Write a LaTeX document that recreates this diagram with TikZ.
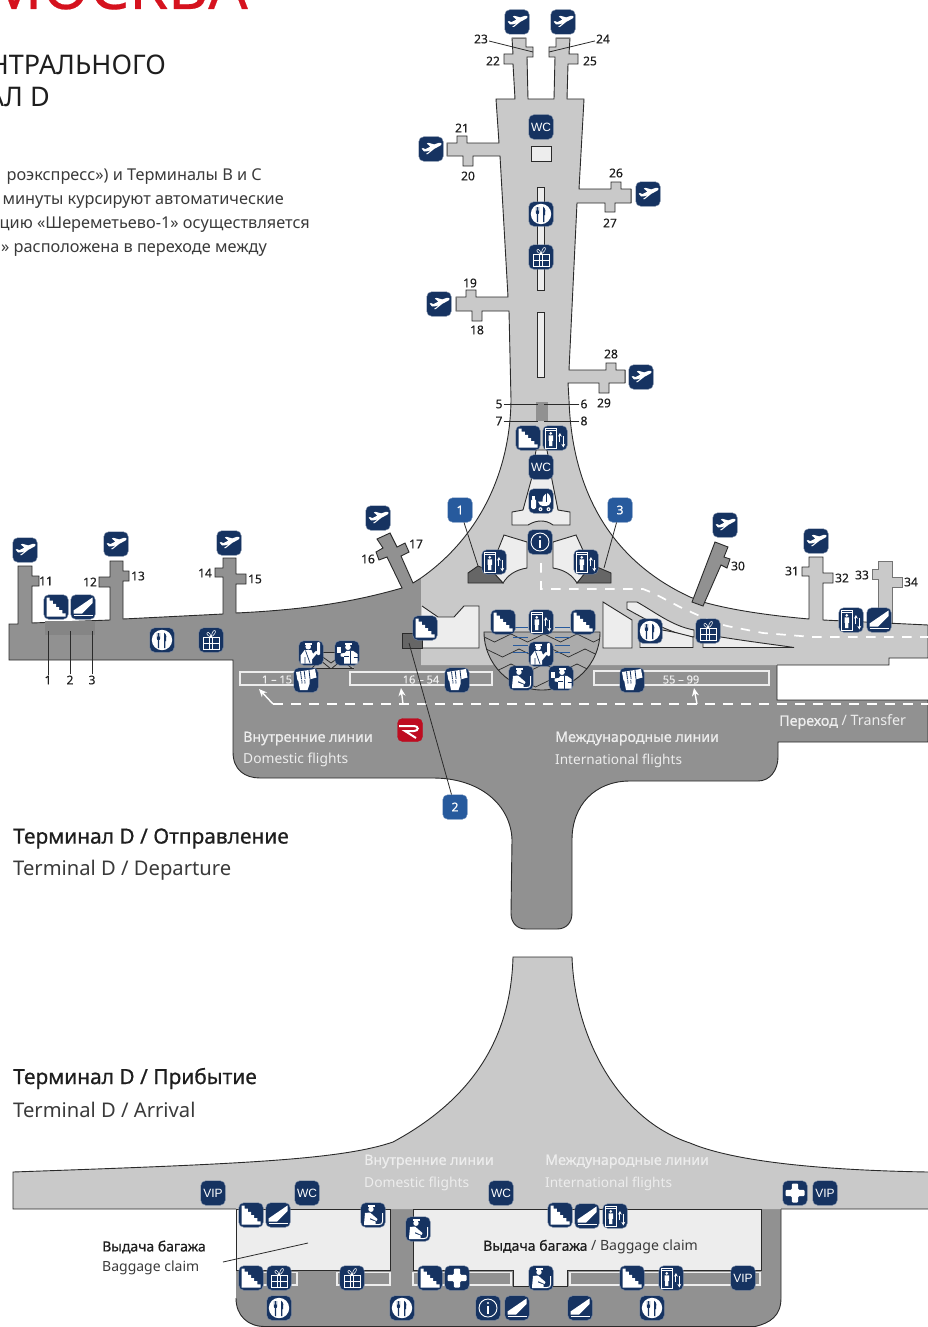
\documentclass[tikz,border=0pt]{standalone}
\usepackage{fontspec}
\setmainfont{Noto Sans}
\newfontfamily\iconfont{Liberation Sans}
\newfontfamily\semib[FakeBold=0.7]{Noto Sans}
\newfontfamily\medf[FakeBold=0.3]{Noto Sans}
\usetikzlibrary{arrows.meta}
\definecolor{navy}{HTML}{163361}
\definecolor{boxblue}{HTML}{275A9D}
\definecolor{lightg}{HTML}{C9C9C9}
\definecolor{darkg}{HTML}{919191}
\definecolor{roomg}{HTML}{EDEDED}
\definecolor{stair}{HTML}{666666}
\definecolor{hatch}{HTML}{ABABAB}
\definecolor{edgec}{HTML}{2A2A2A}
\definecolor{redm}{HTML}{D5121E}
\definecolor{redbox}{HTML}{BE0C20}
\definecolor{txt}{HTML}{1E1E1E}
\definecolor{txtg}{HTML}{3A3A3A}
\definecolor{pale}{HTML}{EDEDED}
\tikzset{
 iconbox/.style={fill=navy,draw=navy!55!white,line width=.4pt,rounded corners=5pt,minimum size=24.5pt,inner sep=0pt,text=white,font=\iconfont\fontsize{12}{12}\selectfont},
 numbox/.style={fill=boxblue,draw=boxblue!70!white,line width=.4pt,rounded corners=5pt,minimum size=24.5pt,inner sep=0pt,text=white,font=\semib\fontsize{12}{12}\selectfont},
 numlab/.style={inner sep=1pt,text=txt,font=\medf\fontsize{12}{12}\selectfont},
 leader/.style={draw=edgec,line width=.8pt},
 wallline/.style={draw=edgec,line width=.9pt,line join=miter},
 roombox/.style={fill=roomg,draw=edgec,line width=.9pt},
 softedge/.style={draw=darkg!80!black,line width=.9pt},
 stripbox/.style={draw=pale,line width=1.5pt},
 wdash/.style={draw=white,line width=1.7pt,dash pattern=on 9.5pt off 8.5pt},
 warrow/.style={draw=white,line width=1.4pt,-{Stealth[length=8pt,width=7pt]}},
 rangetxt/.style={text=pale,font=\medf\fontsize{11}{12}\selectfont},
 capt/.style={anchor=west,inner sep=0pt},
 gplane/.pic={\fill[white] (10.5,-5.6) .. controls (9.5,-6.8) and (6,-6) .. (3.2,-4.6) -- (-2.5,-6.2) -- (-4.2,-5.5) -- (-.6,-2.4) -- (-5.6,.1) -- (-8,-.9) -- (-9.3,-.3) -- (-6.9,2.5) .. controls (-4,2.7) and (-2,1.9) .. (0,1.1) -- (-5,5) -- (-3.2,5) -- (3.5,-.3) -- (9,-3.2) .. controls (10.2,-3.9) and (10.8,-4.8) .. (10.5,-5.6) -- cycle;},
 gstairs/.pic={\fill[white] (-9.5,-9.5)--(-6.4,-9.5)--(-6.4,-6.3)--(-3.2,-6.3)--(-3.2,-3.2)--(0,-3.2)--(0,0)--(3.2,0)--(3.2,3.2)--(6.4,3.2)--(6.4,6.3)--(9.5,6.3)--(9.5,9.5)--(-9.5,9.5)--cycle;},
 gesc/.pic={\fill[white] (-9.5,3.5)--(9.5,-9.5)--(9.5,-4)--(-1,6.6)--(-9.5,6.6)--cycle; \draw[white,line width=.9pt] (-9.5,8.6)--(9.5,8.6);},
 glift/.pic={\draw[white,line width=.8pt] (-10,-10) rectangle (1.5,10); \draw[white,line width=.6pt] (-10,-7.4)--(1.5,-7.4); \fill[white] (-4.2,-4.6) circle[radius=1.5pt]; \fill[white] (-6.4,-2.6) rectangle (-2,2.8) (-5.8,2.8) rectangle (-2.6,8); \draw[white,line width=.9pt,-{Stealth[length=3.6pt,width=3.8pt]}] (4.9,4)--(4.9,-5); \draw[white,line width=.9pt,-{Stealth[length=3.6pt,width=3.8pt]}] (8.3,-2)--(8.3,9.5);},
 gfood/.pic={\fill[white] (0,0) circle[radius=10.2pt]; \fill[navy] (-5.2,-7)--(-4.6,-7)--(-4.6,-3.5)--(-3.9,-3.5)--(-3.9,-7)--(-3.1,-7)--(-3.1,-3.5)--(-2.4,-3.5)--(-2.4,-7)--(-1.8,-7)--(-1.8,-2) .. controls (-1.8,-.5) and (-2.5,0) .. (-2.8,0) -- (-2.8,8) -- (-4.2,8) -- (-4.2,0) .. controls (-4.6,0) and (-5.2,-.5) .. (-5.2,-2) -- cycle; \fill[navy] (2,-7.5) .. controls (4.5,-6) and (5,-2) .. (4,1) -- (3.4,1) -- (3.4,8) -- (2,8) -- cycle;},
 ggift/.pic={\begin{scope}[draw=white,line width=.55pt] \draw (-8,-3) -- (8,-3) -- (8,9) -- (-8,9) -- cycle; \draw (-8,3) -- (8,3); \draw (-1.3,-3)--(-1.3,9) (1.3,-3)--(1.3,9); \draw (0,-3) .. controls (-5,-4.5) and (-5,-8) .. (-2.5,-7.5) .. controls (-1,-7) and (-.5,-5) .. (0,-3) .. controls (.5,-6) and (2,-10) .. (4,-9.5) .. controls (5.5,-8) and (3,-4.5) .. (0,-3); \end{scope}},
 ginfo/.pic={\draw[white,line width=.9pt] (0,0) circle[radius=9pt]; \fill[white] (0,-5) circle[radius=1.1pt]; \fill[white] (-.9,-2.4) rectangle (.9,5.8);},
 gplus/.pic={\fill[white,rounded corners=1pt] (-3.2,-9.5) -- (3.2,-9.5) -- (3.2,-3.2) -- (9.5,-3.2) -- (9.5,3.2) -- (3.2,3.2) -- (3.2,9.5) -- (-3.2,9.5) -- (-3.2,3.2) -- (-9.5,3.2) -- (-9.5,-3.2) -- (-3.2,-3.2) -- cycle;},
 gpram/.pic={\fill[white,rounded corners=1.5pt] (-10,-2) rectangle (-5,8); \fill[white] (-8.6,-5.5) rectangle (-6.4,-2); \fill[white] (-3,.5) -- (1.5,.5) .. controls (1.5,-4) and (3,-7) .. (5.5,-8) .. controls (8.5,-7.5) and (10,-4) .. (10,.5) .. controls (10,3.5) and (7,5) .. (3.5,5) .. controls (0,5) and (-3,3.5) .. (-3,.5) -- cycle; \draw[navy,line width=.6pt] (5.5,-8) -- (5.5,.5); \fill[white] (-.5,8.2) circle[radius=2pt] (7.5,8.2) circle[radius=2pt]; \fill[navy] (-.5,8.2) circle[radius=.7pt] (7.5,8.2) circle[radius=.7pt];},
 gguard/.pic={\fill[white] (-2.8,-6.3) circle[radius=2.8pt]; \fill[white] (-6,-10) rectangle (.6,-8.2); \fill[white] (-10.5,10.5) -- (-10.5,2.5) -- (-6.5,-2.8) -- (.5,-2.8) -- (2,.8) -- (5.2,-2.2) -- (6.8,-.5) -- (1,6.5) -- (1,10.5) -- cycle; \draw[navy,line width=.7pt] (-5.5,-2.5) -- (-1,10) (-6,4)--(-6,10.5); \fill[white,rounded corners=1pt] (6,-11) rectangle (9,2);},
 gcustoms/.pic={\fill[white] (1,-5.8) circle[radius=2.8pt]; \fill[white] (-2.2,-10) rectangle (4.8,-8); \fill[white] (-3,10.5) -- (-3,4) -- (-6.5,3.4) -- (-6.5,.6) -- (-2,-.2) -- (-.5,-2.2) -- (6,-2.2) -- (10.5,1) -- (10.5,10.5) -- cycle; \fill[white] (-10,-6) rectangle (-6,.4); \draw[navy,line width=.7pt] (3,-2) -- (3,10.5) (-3,3.8) -- (1.5,3.8) (6.5,4)--(10.5,4);},
 gbag/.pic={\fill[white] (-5.5,-10) rectangle (1.5,-8.2); \fill[white] (-2,-5.8) circle[radius=2.7pt]; \fill[white] (-9,9) -- (-8,-2) -- (-3,-2.5) -- (4.5,4) -- (3.5,6) -- (-3,3) -- (-3,4.5) -- (2.5,6.5) -- (2.5,9) -- cycle; \draw[white,line width=1pt] (9.5,-2) -- (9.5,6.5) .. controls (9.5,8.5) and (8.5,9.5) .. (6,9.5) -- (-9,9.5);},
 gpass/.pic={\fill[white] (-10,-8) -- (9,-11) -- (10.5,-2.5) -- (4,-.7) -- (-8.5,.5) -- cycle; \draw[navy,line width=.8pt] (-5.5,-8.5) -- (-4.5,-.5) (-1.8,-9.2) -- (-.8,-.5) (3,-10) -- (4,-1); \fill[white] (-8,-.5) -- (3.5,-1) -- (3.5,4) -- (1.5,10) -- (-6,10) -- cycle; \draw[navy,line width=.7pt] (-4.2,0)--(-4,3.5) (-1.2,0)--(-1,3.5);},
}
\newcommand{\lightedge}{(421,578) .. controls (475,540) and (510,478) .. (511,400) -- (509,311) -- (482,311) -- (482,321) -- (472,321) -- (472,311) -- (456,311) -- (456,297) -- (466,297) -- (466,290) -- (476,290) -- (476,297) -- (508,297) -- (500,156) -- (473,156) -- (473,166) -- (463,166) -- (463,156) -- (447,156) -- (447,143) -- (457,143) -- (457,136) -- (467,136) -- (467,143) -- (499,143) -- (496,99) -- (515,99) -- (513,64) -- (504,64) -- (504,54) -- (513,54) -- (512,38) -- (526,38) -- (526,47) -- (533,47) -- (533,57) -- (527,57) -- (528,99) -- (554,99) -- (555,57) -- (549,57) -- (549,47) -- (556,47) -- (556,38) -- (570,38) -- (569,54) -- (578,54) -- (578,64) -- (568,64) -- (567,99) -- (584,99) -- (579,189) -- (611,189) -- (611,182) -- (621,182) -- (621,189) -- (631,189) -- (631,203) -- (615,203) -- (615,212) -- (605,212) -- (605,203) -- (577,203) -- (569,370) -- (606,370) -- (606,363) -- (616,363) -- (616,370) -- (625,370) -- (625,383) -- (609,383) -- (609,393) -- (599,393) -- (599,383) -- (568,383) -- (569,400) .. controls (572,490) and (610,560) .. (690,597) -- (703,602) .. controls (735,611) and (775,616) .. (809,619) -- (809,576) -- (802,576) -- (802,567) -- (809,567) -- (809,557) -- (823,557) -- (823,573) -- (833,573) -- (833,583) -- (823,583) -- (823,620) -- (928,625) -- (928,658) -- (889,658) -- (889,665) -- (777,665)}
\newcommand{\darkedge}{(421,578) -- (413,583) -- (401,556) -- (409,552) -- (405,543) -- (397,547) -- (390,533) -- (377,539) -- (383,548) -- (376,552) -- (379,560) -- (387,557) -- (402,588) .. controls (350,603) and (300,610) .. (236,613) -- (236,584) -- (246,584) -- (246,574) -- (236,574) -- (236,558) -- (223,558) -- (223,568) -- (215,568) -- (215,577) -- (223,577) -- (223,614) -- (123,619) -- (123,581) -- (129,581) -- (129,571) -- (123,571) -- (123,561) -- (110,561) -- (110,577) -- (99,577) -- (99,587) -- (110,587) -- (110,620) -- (32,623) -- (32,586) -- (39,586) -- (39,576) -- (32,576) -- (32,566) -- (18,566) -- (18,624) -- (9,624) -- (9,660) -- (233,660) -- (233,752) .. controls (233,770) and (245,778) .. (260,778) -- (433,778) .. controls (480,778) and (511,805) .. (512,840) -- (511,913) .. controls (511,923) and (517,929) .. (526,929) -- (557,929) .. controls (566,929) and (572,923) .. (572,913) -- (572,840) .. controls (572,805) and (595,781) .. (630,781) -- (758,781) .. controls (770,781) and (778,770) .. (778,757) -- (778,742) -- (928,742) -- (928,700) -- (777,700) -- (777,665)}
\begin{document}
\begin{tikzpicture}[x=1pt,y=-1pt]
\useasboundingbox (0,0) rectangle (928,1327);
\clip (0,0) rectangle (928,1327);
% ---- heading text
\node[anchor=base east,inner sep=0pt,text=redm,font=\medf\fontsize{62}{62}\selectfont] (ttl) at (248,9) {МОСКВА};
\node[anchor=base east,inner sep=0pt,text=txt,font=\fontsize{27}{30}\selectfont] (t1) at (166,75) {НТРАЛЬНОГО};
\node[anchor=base east,inner sep=0pt,text=txt,font=\fontsize{27}{30}\selectfont] (t2) at (50,107) {АЛ D};
\foreach \nm/\ex/\by/\tx in {b1/262/180/{роэкспресс») и Терминалы B и C},b2/284/204/{минуты курсируют автоматические},b3/310/228/{цию «Шереметьево-1» осуществляется},b4/267/252/{» расположена в переходе между}}
 \node[anchor=base east,inner sep=0pt,text=txtg,font=\fontsize{16.3}{18}\selectfont] (\nm) at (\ex,\by) {\tx};
% ---- departure terminal
\fill[darkg] \darkedge -- (421,665) -- cycle;
\draw[wallline] \darkedge;
\draw[softedge,fill=lightg] (878,630) -- (878,579) -- (872,579) -- (872,569) -- (878,569) -- (878,561) -- (892,561) -- (892,577) -- (902,577) -- (902,587) -- (892,587) -- (892,630) -- cycle;
\fill[lightg] \lightedge -- (421,665) -- cycle;
\draw[wallline] \lightedge;
\draw[softedge] (447,143) -- (447,156) (456,297) -- (456,311) (631,189) -- (631,203) (625,370) -- (625,383) (512,38) -- (526,38) (556,38) -- (570,38);
\draw[wallline,fill=darkg] (715,542) -- (728,547) -- (724,557) -- (730,559) -- (727,568) -- (721,565) -- (703,606) -- (692,602) -- cycle;
\fill[darkg!92!black] (45,621) rectangle (95,635);
% north pier details
\draw[roombox] (531,146) rectangle (551,161);
\draw[roombox] (537,187) rectangle (544,290);
\draw[roombox] (537,312) rectangle (544,377);
\fill[darkg] (536,402) rectangle (548,421);
% central rooms
\draw[roombox] (512,525) -- (512,512) -- (523,510) -- (532,477) -- (536,450) -- (547,450) -- (552,480) -- (558,510) -- (570,512) -- (570,525) -- (553,525) .. controls (549,522) and (545,521) .. (541,521) .. controls (537,521) and (533,522) .. (528,525) -- cycle;
\draw[roombox] (504,535) -- (527,542) -- (527,568) .. controls (515,570) and (508,575) .. (503,583) -- (490,570) -- cycle;
\draw[roombox] (576,535) -- (553,542) -- (553,568) .. controls (565,570) and (572,575) .. (577,583) -- (592,570) -- cycle;
\draw[wallline,fill=stair] (468,583) -- (468,573) -- (478,566) -- (493,572) -- (503,583) -- cycle;
\draw[wallline,fill=stair] (577,583) -- (585,573) -- (597,567) -- (611,573) -- (611,583) -- cycle;
\draw[roombox] (422,606) -- (438,617) -- (454,617) -- (464,606) -- (479,606) -- (479,648) -- (422,648);
\draw[wallline,fill=stair] (402,633) rectangle (422,648);
\draw[roombox] (603,602) -- (632,620) -- (632,648) -- (603,648) -- cycle;
\draw[roombox] (627,602) -- (637,602) .. controls (655,612) and (672,626) .. (694,630) -- (694,637) .. controls (675,635) and (650,622) .. (627,609) -- cycle;
\draw[roombox] (640,647.5) -- (640,630) -- (662,630) .. controls (675,632) and (685,635) .. (693,637) -- (693,647.5) -- cycle;
\draw[roombox] (703,647.5) -- (703,634) .. controls (737,640) and (770,644) .. (794,647.5) -- cycle;
% control hall
\begin{scope}
\path[clip] (484,632) .. controls (484,664) and (510,690) .. (542,690) .. controls (574,690) and (600,664) .. (600,632) -- cycle;
\fill[hatch] (480,630) rectangle (604,692);
\foreach \ry/\ox in {634/0,649/8,664/0,679/8}
 \draw[edgec,line width=.7pt] (478+\ox,\ry) foreach \k in {0,...,4} { -- ++(16.5,8) -- ++(16.5,-8)};
\end{scope}
\draw[wallline] (484,632) .. controls (484,664) and (510,690) .. (542,690) .. controls (574,690) and (600,664) .. (600,632) -- cycle;
\draw[boxblue,line width=.8pt] (513,627)--(528,627) (555,627)--(570,627) (513,637)--(528,637) (555,637)--(570,637) (513,645)--(528,645) (555,645)--(570,645) (513,652)--(528,652) (555,652)--(570,652);
% small check point
\begin{scope}
\path[clip] (318,652) -- (345,652) -- (354,668) -- (310,668) -- cycle;
\fill[hatch] (305,650) rectangle (358,670);
\draw[edgec,line width=.8pt] (320,655) -- (331,663) -- (342,655) (310,670) -- (320,660) -- (331,669) -- (342,660) -- (354,670);
\end{scope}
\draw[edgec,line width=.9pt] (318,652) -- (345,652) (310,668) -- (354,668);
% gate strips and paths
\draw[stripbox] (240,672) rectangle (300,685);
\draw[stripbox] (350,672) rectangle (492,685);
\draw[stripbox] (594,671) rectangle (769,685);
\draw[wdash] (541,563) -- (541,589) -- (643,589) -- (653,593) -- (680,607) -- (713,622) -- (727,626) -- (763,633) -- (813,637) -- (928,637);
\draw[wdash] (273,704) -- (928,704);
\coordinate (a1s) at (273,704); \coordinate (a1e) at (259,689);
\coordinate (a2s) at (403,704); \coordinate (a2e) at (401,688);
\coordinate (a3s) at (697,704); \coordinate (a3e) at (694,688);
\draw[warrow] (a1s) -- (a1e);
\draw[warrow] (a2s) -- (a2e);
\draw[warrow] (a3s) -- (a3e);
\node[rangetxt] (r1) at (277,679.5) {1 – 15};
\node[rangetxt] (r2) at (421,679.5) {16 – 54};
\node[rangetxt] (r3) at (681,679.5) {55 – 99};
% ---- arrival terminal
\fill[darkg] (236,1209) -- (236,1298) .. controls (236,1316) and (248,1327) .. (265,1327) -- (755,1327) .. controls (770,1323) and (781,1316) .. (781,1298) -- (781,1209) -- cycle;
\draw[wallline] (236,1298) .. controls (236,1316) and (248,1326.5) .. (265,1326.5) -- (755,1326.5) .. controls (770,1323) and (781,1316) .. (781,1298) -- (781,1209);
\fill[lightg] (13,1209) -- (13,1172) .. controls (240,1164) and (340,1160) .. (393,1142) .. controls (480,1095) and (511,1030) .. (513,957) -- (572,957) .. controls (575,1040) and (620,1120) .. (690,1143) .. controls (730,1160) and (810,1170) .. (928,1172) -- (928,1209) -- cycle;
\draw[wallline] (236,1209) -- (13,1209) -- (13,1172) .. controls (240,1164) and (340,1160) .. (393,1142) .. controls (480,1095) and (511,1030) .. (513,957) -- (572,957) .. controls (575,1040) and (620,1120) .. (690,1143) .. controls (730,1160) and (810,1170) .. (928,1172) (928,1209) -- (781,1209);
\draw[stripbox] (262,1272.5) rectangle (297,1285);
\draw[stripbox] (337,1272.5) rectangle (390,1285);
\draw[stripbox] (413,1272.5) rectangle (511,1285);
\draw[stripbox] (570,1272.5) rectangle (760,1285);
\draw[roombox] (236,1209) rectangle (390,1270);
\draw[roombox] (413,1209) -- (761,1209) -- (761,1270) -- (567,1270) -- (567,1286) -- (513,1286) -- (513,1270) -- (413,1270) -- cycle;
% ---- leaders
\foreach \nm/\lx/\ly/\tx in {n23/481/39/23,n24/603/39/24,n22/493/61/22,n25/590/61/25,n21/462/128/21,n20/468/176/20,n26/616/173/26,n27/610/223/27,n19/470/283/19,n18/477/330/18,n28/611/354/28,n29/604/403/29,n5/499/404/5,n6/584/404/6,n7/499/421/7,n8/584/421/8,n16/368/559/16,n17/416/544/17,n11/46/581/11,n12/90/582/12,n13/138/576/13,n14/205/573/14,n15/255/579/15,n30/738/566/30,n31/792/571/31,n32/842/578/32,n33/862/575/33,n34/911/582/34,n1/48/680/1,n2/70/680/2,n3/92/680/3}
 \node[numlab] (\nm) at (\lx,\ly) {\tx};
\coordinate (c23) at (533,52); \coordinate (c24) at (549,52);
\coordinate (c5) at (538,404); \coordinate (c6) at (544,404);
\coordinate (c7) at (538,421); \coordinate (c8) at (544,421);
\coordinate (cw1) at (48,631); \coordinate (cw2) at (70,631); \coordinate (cw3) at (92,631);
\coordinate (cb1) at (478,566); \coordinate (cb2) at (409,643); \coordinate (cb3) at (604,568);
\coordinate (bc1) at (223,1262); \coordinate (bc2) at (308,1243);
\node[numbox] (box1) at (460,510) {1};
\node[numbox] (box2) at (455,807) {2};
\node[numbox] (box3) at (620,510) {3};
\foreach \a/\b in {n23/c23,n24/c24,n5/c5,n6/c6,n7/c7,n8/c8,n1/cw1,n2/cw2,n3/cw3,box1/cb1,box2/cb2,box3/cb3,bc1/bc2}
 \draw[leader] (\a) -- (\b);
% ---- icons
\foreach \px/\py [count=\k] in {517/22,563/22,431/149,648/194,439/304,641/377,378/518,25/550,116/544,229/543,725/525,816/541}
 {\node[iconbox] (plane\k) at (\px,\py) {}; \pic at (plane\k.center) {gplane};}
\foreach \px/\py [count=\k] in {528/438,503/622,583/622,425/628,56/607,251/1215,560/1215,251/1278,430/1278,632/1278}
 {\node[iconbox] (stairs\k) at (\px,\py) {}; \pic at (stairs\k.center) {gstairs};}
\foreach \px/\py [count=\k] in {83/607,879/620,278/1215,587/1216,517/1308,580/1308}
 {\node[iconbox] (esc\k) at (\px,\py) {}; \pic at (esc\k.center) {gesc};}
\foreach \px/\py [count=\k] in {555/438,494/562,586/562,541/622,851/620,615/1216,671/1278}
 {\node[iconbox] (lift\k) at (\px,\py) {}; \pic at (lift\k.center) {glift};}
\foreach \px/\py [count=\k] in {541/214,650/631,162/640,279/1308,402/1308,652/1308}
 {\node[iconbox] (food\k) at (\px,\py) {}; \pic at (food\k.center) {gfood};}
\foreach \px/\py [count=\k] in {541/257,708/631,211/640,279/1278,352/1278}
 {\node[iconbox] (gift\k) at (\px,\py) {}; \pic at (gift\k.center) {ggift};}
\foreach \px/\py [count=\k] in {540/542,488/1308}
 {\node[iconbox] (info\k) at (\px,\py) {}; \pic at (info\k.center) {ginfo};}
\foreach \px/\py [count=\k] in {795/1193,457/1278}
 {\node[iconbox] (plus\k) at (\px,\py) {}; \pic at (plus\k.center) {gplus};}
\foreach \px/\py [count=\k] in {541/654,311/653}
 {\node[iconbox] (guard\k) at (\px,\py) {}; \pic at (guard\k.center) {gguard};}
\foreach \px/\py [count=\k] in {561/678,347/653}
 {\node[iconbox] (cust\k) at (\px,\py) {}; \pic at (cust\k.center) {gcustoms};}
\foreach \px/\py [count=\k] in {521/678,373/1215,418/1229,541/1278}
 {\node[iconbox] (bag\k) at (\px,\py) {}; \pic at (bag\k.center) {gbag};}
\foreach \px/\py [count=\k] in {457/680,632/680,306/680}
 {\node[iconbox] (pass\k) at (\px,\py) {}; \pic at (pass\k.center) {gpass};}
\node[iconbox] (pram1) at (541,501) {}; \pic at (pram1.center) {gpram};
\foreach \px/\py [count=\k] in {541/127,541/467,307/1193,501/1193}
 \node[iconbox] (wc\k) at (\px,\py) {WC};
\foreach \px/\py [count=\k] in {213/1193,825/1193,743/1278}
 \node[iconbox] (vip\k) at (\px,\py) {VIP};
\node[iconbox,fill=redbox,draw=redbox,minimum width=25pt,minimum height=23pt] (rbox) at (410,730) {};
\draw[white,line width=2pt] (399,726) -- (414,726) .. controls (419,726) and (419,731) .. (414,731) -- (405,731) -- (416,738);
% ---- captions
\begin{scope}[every node/.style={capt}]
\node[text=pale,font=\semib\fontsize{14.2}{15}\selectfont] (d1) at (243,738.5) {Внутренние линии};
\node[text=pale,font=\fontsize{13.8}{15}\selectfont] (d2) at (243,759.5) {Domestic flights};
\node[text=pale,font=\semib\fontsize{14.2}{15}\selectfont] (i1) at (555,738.5) {Международные линии};
\node[text=pale,font=\fontsize{13.6}{15}\selectfont] (i2) at (555,760.5) {International flights};
\node[text=pale,font=\fontsize{14.3}{15}\selectfont] (tr) at (779,722) {{\semib Переход} / Transfer};
\node[text=txt,font=\semib\fontsize{20.9}{22}\selectfont] (h1) at (13,838.5) {Терминал D / Отправление};
\node[text=txtg,font=\fontsize{20.2}{22}\selectfont] (h2) at (13,870) {Terminal D / Departure};
\node[text=txt,font=\semib\fontsize{20.9}{22}\selectfont] (h3) at (13,1078.5) {Терминал D / Прибытие};
\node[text=txtg,font=\fontsize{20.2}{22}\selectfont] (h4) at (13,1110) {Terminal D / Arrival};
\node[text=pale,font=\semib\fontsize{14.2}{15}\selectfont] (a1) at (364,1161.5) {Внутренние линии};
\node[text=pale,font=\fontsize{13.8}{15}\selectfont] (a2) at (364,1183.5) {Domestic flights};
\node[text=pale,font=\semib\fontsize{14.2}{15}\selectfont] (a3) at (545,1161.5) {Международные линии};
\node[text=pale,font=\fontsize{13.6}{15}\selectfont] (a4) at (545,1183.5) {International flights};
\node[text=txt,font=\semib\fontsize{14}{15}\selectfont] (bc3) at (102,1247) {Выдача багажа};
\node[text=txtg,font=\fontsize{14}{15}\selectfont] (bc4) at (102,1268) {Baggage claim};
\end{scope}
\node[text=txtg,font=\fontsize{14.1}{15}\selectfont] (bc5) at (590.5,1247) {\textcolor{txt}{\semib Выдача багажа} / Baggage claim};
\end{tikzpicture}
\end{document}
